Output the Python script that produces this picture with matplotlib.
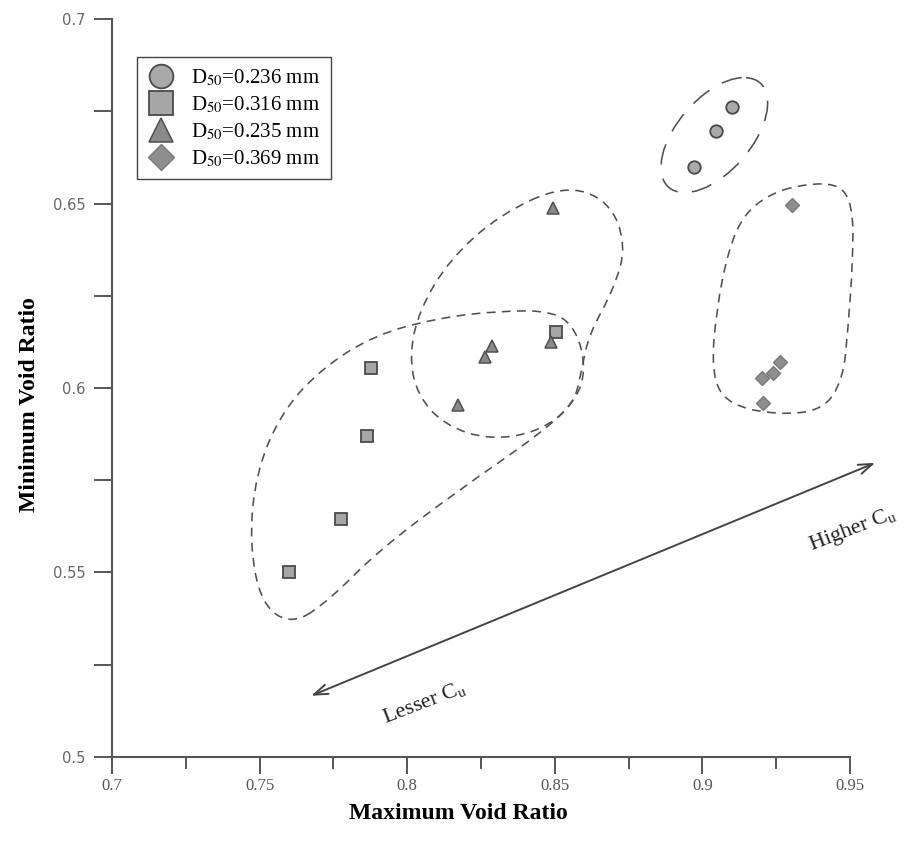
import numpy as np
import matplotlib
matplotlib.use("Agg")
import matplotlib.pyplot as plt
from matplotlib.path import Path
from matplotlib.patches import PathPatch

plt.rcParams["mathtext.fontset"] = "stix"

# datos
d236_x = [0.8973, 0.9047, 0.9101]
d236_y = [0.6599, 0.6697, 0.6762]

d316_x = [0.7601, 0.7777, 0.7865, 0.7878, 0.8503]
d316_y = [0.5501, 0.5645, 0.5870, 0.6054, 0.6152]

d235_x = [0.8172, 0.8263, 0.8287, 0.8486, 0.8493]
d235_y = [0.5954, 0.6084, 0.6114, 0.6125, 0.6488]

d369_x = [0.9202, 0.9206, 0.9240, 0.9263, 0.9304]
d369_y = [0.6027, 0.5959, 0.6041, 0.6070, 0.6496]

etiquetas = ["D$_{50}$=0.236 mm", "D$_{50}$=0.316 mm",
             "D$_{50}$=0.235 mm", "D$_{50}$=0.369 mm"]

# contornos a mano alzada (poligonos de control)
grupo_cuadrados_x = [0.7611, 0.7507, 0.7466, 0.7486, 0.7568, 0.7703, 0.7889, 0.8108,
                     0.8311, 0.8497, 0.8574, 0.8605, 0.8574, 0.8446, 0.8176, 0.7905, 0.7736]
grupo_cuadrados_y = [0.5358, 0.5412, 0.5575, 0.5764, 0.5927, 0.6049, 0.6144, 0.6190,
                     0.6209, 0.6209, 0.6157, 0.6054, 0.5967, 0.5873, 0.5724, 0.5561, 0.5425]

grupo_triangulos_x = [0.8530, 0.8682, 0.8743, 0.8699, 0.8615, 0.8591, 0.8564, 0.8446,
                      0.8277, 0.8125, 0.8034, 0.8007, 0.8041, 0.8142, 0.8311]
grupo_triangulos_y = [0.6550, 0.6509, 0.6388, 0.6266, 0.6144, 0.6049, 0.5954, 0.5881,
                      0.5859, 0.5900, 0.5981, 0.6089, 0.6211, 0.6347, 0.6469]

grupo_rombos_x = [0.9324, 0.9459, 0.9510, 0.9510, 0.9493, 0.9476, 0.9409, 0.9257,
                  0.9088, 0.9030, 0.9047, 0.9088, 0.9139, 0.9223]
grupo_rombos_y = [0.6550, 0.6556, 0.6496, 0.6347, 0.6157, 0.6022, 0.5940, 0.5927,
                  0.5954, 0.6035, 0.6211, 0.6374, 0.6469, 0.6523]

grupo_circulos_x = [0.9208, 0.9230, 0.9142, 0.8994, 0.8873, 0.8851, 0.8939, 0.9087]
grupo_circulos_y = [0.6838, 0.6743, 0.6614, 0.6527, 0.6533, 0.6628, 0.6757, 0.6844]

flecha_ini = (0.7666, 0.5163)
flecha_fin = (0.9594, 0.5800)


def contorno(ax, xs, ys, dashes, lw=1.15):
    pts = np.column_stack([xs, ys])
    mids = (pts + np.roll(pts, -1, axis=0)) / 2
    verts = [mids[-1]]
    codes = [Path.MOVETO]
    for i in range(len(pts)):
        verts += [pts[i], mids[i]]
        codes += [Path.CURVE3, Path.CURVE3]
    ax.add_patch(PathPatch(Path(verts, codes), fill=False, edgecolor="#505050",
                           lw=lw, linestyle=(0, dashes), clip_on=False))


fig = plt.figure(figsize=(9.19, 8.49), dpi=100)
ax = fig.add_axes([0.1219, 0.1084, 0.8030, 0.8692])

ax.plot(d236_x, d236_y, "o", ms=9, mfc="#a9a9a9", mec="#4a4a4a", mew=1.3, label=etiquetas[0])
ax.plot(d316_x, d316_y, "s", ms=9, mfc="#a6a6a6", mec="#4a4a4a", mew=1.3, label=etiquetas[1])
ax.plot(d235_x, d235_y, "^", ms=9, mfc="#8a8a8a", mec="#505050", mew=1.1, label=etiquetas[2])
ax.plot(d369_x, d369_y, "D", ms=7, mfc="#8e8e8e", mec="#7a7a7a", mew=1.0, label=etiquetas[3])

contorno(ax, grupo_cuadrados_x, grupo_cuadrados_y, (5.5, 4))
contorno(ax, grupo_triangulos_x, grupo_triangulos_y, (5.5, 4))
contorno(ax, grupo_rombos_x, grupo_rombos_y, (5.5, 4))
contorno(ax, grupo_circulos_x, grupo_circulos_y, (13, 9))

# flecha de Cu
ax.annotate("", xy=flecha_fin, xytext=flecha_ini, annotation_clip=False,
            arrowprops=dict(arrowstyle="<->,head_length=1.0,head_width=0.35",
                            color="#444444", lw=1.4))
ax.text(0.951, 0.5615, "Higher C$_\\mathrm{u}$", rotation=21, ha="center", va="center",
        fontsize=16, family="Liberation Serif", color="#222222")
ax.text(0.8057, 0.5149, "Lesser C$_\\mathrm{u}$", rotation=21, ha="center", va="center",
        fontsize=16, family="Liberation Serif", color="#222222")

ax.set_xlim(0.7, 0.95)
ax.set_ylim(0.5, 0.7)
ax.set_xticks(np.arange(0.7, 0.951, 0.05))
ax.set_xticks(np.arange(0.725, 0.95, 0.05), minor=True)
ax.set_yticks(np.arange(0.5, 0.701, 0.05))
ax.set_yticks(np.arange(0.525, 0.7, 0.05), minor=True)
ax.set_xticklabels(["0.7", "0.75", "0.8", "0.85", "0.9", "0.95"],
                   family="Liberation Serif", fontsize=12, color="#555555")
ax.set_yticklabels(["0.5", "0.55", "0.6", "0.65", "0.7"],
                   family="DejaVu Sans", fontsize=10.5, color="#666666")
ax.tick_params(axis="x", which="major", length=12.5, width=1.4, color="#555555", pad=3)
ax.tick_params(axis="x", which="minor", length=8.5, width=1.4, color="#555555")
ax.tick_params(axis="y", which="both", length=13, width=1.4, color="#555555", pad=6)

for s in ["top", "right"]:
    ax.spines[s].set_visible(False)
for s in ["left", "bottom"]:
    ax.spines[s].set_color("#555555")
    ax.spines[s].set_linewidth(1.5)

ax.set_xlabel("Maximum Void Ratio", family="Liberation Serif", fontweight="bold", fontsize=17)
ax.set_ylabel("Minimum Void Ratio", family="Liberation Serif", fontweight="bold", fontsize=17)
ax.xaxis.set_label_coords(0.47, -0.063)
ax.yaxis.set_label_coords(-0.098, 0.477)

ax.legend(loc="upper left", bbox_to_anchor=(0.034, 0.9485), borderaxespad=0,
          markerscale=1.9, fancybox=False, edgecolor="#444444", framealpha=1,
          prop={"family": "Liberation Serif", "size": 15}, handletextpad=0.8,
          labelspacing=0.3, handlelength=1.3, borderpad=0.5)

fig.savefig("out.png", dpi=100)
